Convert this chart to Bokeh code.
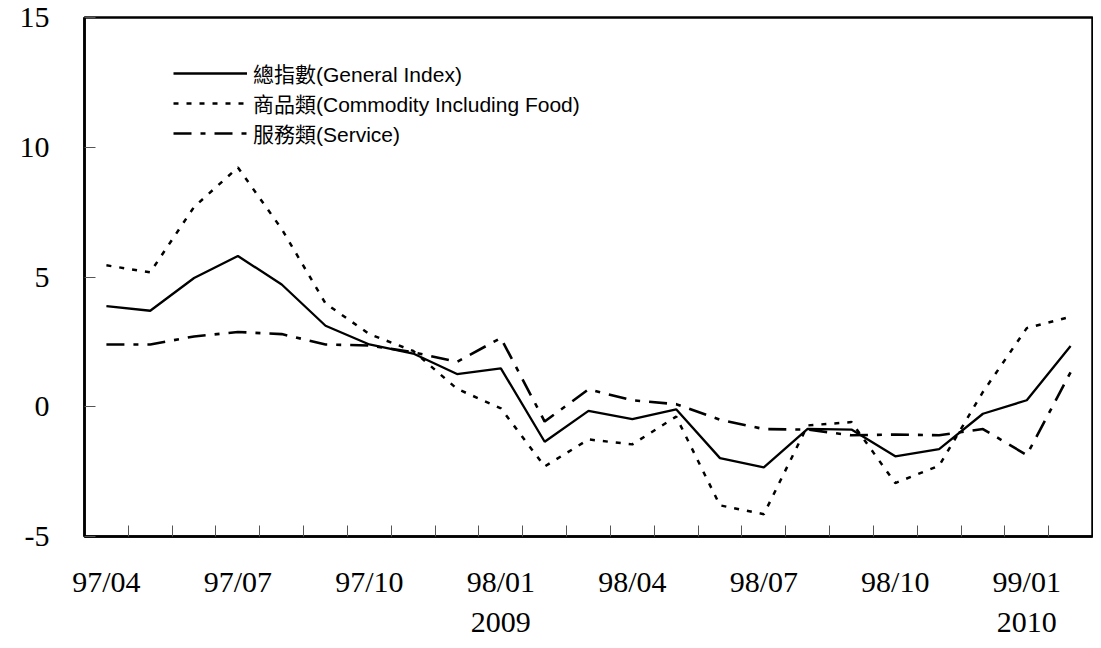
from bokeh.plotting import figure
from bokeh.models import Range1d, FixedTicker, Legend, LegendItem
from bokeh.embed import file_html
from bokeh.resources import INLINE

months = ["97/04", "97/05", "97/06", "97/07", "97/08", "97/09", "97/10", "97/11", "97/12",
          "98/01", "98/02", "98/03", "98/04", "98/05", "98/06", "98/07", "98/08", "98/09",
          "98/10", "98/11", "98/12", "99/01", "99/02"]
year_marks = {"98/01": "2009", "99/01": "2010"}

general = [3.88, 3.70, 4.96, 5.81, 4.71, 3.12, 2.40, 2.05, 1.26, 1.48, -1.35, -0.16,
           -0.48, -0.10, -1.98, -2.34, -0.85, -0.88, -1.91, -1.63, -0.27, 0.25, 2.34]
commodity = [5.45, 5.18, 7.70, 9.22, 6.85, 3.98, 2.80, 2.15, 0.69, -0.06, -2.30, -1.26,
             -1.45, -0.38, -3.80, -4.14, -0.72, -0.59, -2.94, -2.27, 0.57, 3.03, 3.47]
service = [2.40, 2.40, 2.71, 2.88, 2.80, 2.40, 2.36, 2.10, 1.73, 2.65, -0.57, 0.67,
           0.25, 0.10, -0.50, -0.86, -0.88, -1.10, -1.07, -1.10, -0.86, -1.86, 1.33]

names = ["總指數(General Index)", "商品類(Commodity Including Food)", "服務類(Service)"]
y_ticks = [-5, 0, 5, 10, 15]
y_tick_labels = ["-5", "0", "5", "10", "15"]

x = list(range(len(months)))
n = len(months)

p = figure(width=1093, height=640, output_backend="svg", toolbar_location=None,
           x_range=Range1d(-0.5, n - 0.5), y_range=Range1d(-5, 15),
           min_border_left=84, min_border_right=1, min_border_top=17, min_border_bottom=103)

p.xgrid.visible = False
p.ygrid.visible = False
p.background_fill_color = "white"
p.border_fill_color = "white"
p.outline_line_color = "black"
p.outline_line_width = 2.5

r1 = p.line(x, general, line_color="black", line_width=2.3)
r2 = p.line(x, commodity, line_color="black", line_width=2.5, line_dash="5 8")
r3 = p.line(x, service, line_color="black", line_width=2.6, line_dash="18 9 5 9")

serif = "Liberation Serif"

# x axis
label_idx = list(range(0, n, 3))
overrides = {}
for i in label_idx:
    m = months[i]
    overrides[i] = m + ("\n" + year_marks[m] if m in year_marks else "")
xa = p.xaxis[0]
xa.ticker = FixedTicker(ticks=label_idx, minor_ticks=[i + 0.5 for i in range(n - 1)])
xa.major_label_overrides = overrides
xa.major_tick_in = 0
xa.major_tick_out = 0
xa.minor_tick_in = 11
xa.minor_tick_out = 0
xa.minor_tick_line_color = "#555555"
xa.minor_tick_line_width = 1
xa.axis_line_color = "black"
xa.axis_line_width = 2.5
xa.major_label_text_font = serif
xa.major_label_text_font_size = "30px"
xa.major_label_text_color = "black"
xa.major_label_text_line_height = 1.22
xa.major_label_standoff = 28

# y axis
ya = p.yaxis[0]
ya.ticker = FixedTicker(ticks=y_ticks)
ya.major_label_overrides = dict(zip(y_ticks, y_tick_labels))
ya.major_tick_in = 11
ya.major_tick_out = 0
ya.major_tick_line_color = "#555555"
ya.major_tick_line_width = 1
ya.minor_tick_line_color = None
ya.axis_line_color = "black"
ya.axis_line_width = 2.5
ya.major_label_text_font = serif
ya.major_label_text_font_size = "30px"
ya.major_label_text_color = "black"
ya.major_label_standoff = 35

legend = Legend(items=[LegendItem(label=names[0], renderers=[r1]),
                       LegendItem(label=names[1], renderers=[r2]),
                       LegendItem(label=names[2], renderers=[r3])],
                location=(89, 388), orientation="vertical",
                padding=0, spacing=-2, margin=0,
                label_height=28, glyph_height=28, glyph_width=74, label_standoff=6,
                border_line_alpha=0, background_fill_alpha=0,
                label_text_font="Liberation Sans, Noto Sans CJK TC",
                label_text_font_size="21px", label_text_color="black")
p.add_layout(legend, "center")

open("out.html", "w").write(file_html(p, INLINE))
